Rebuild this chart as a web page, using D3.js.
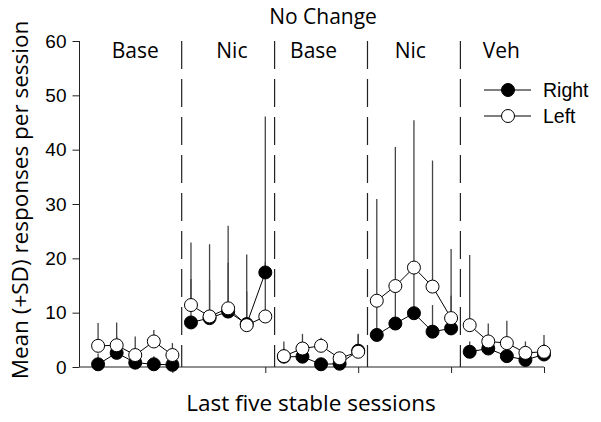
<!DOCTYPE html>
<html>
<head>
<meta charset="utf-8">
<script src="https://cdn.jsdelivr.net/npm/d3@7"></script>
<style>
  body { margin: 0; background: #fff; }
  svg { display: block; }
</style>
</head>
<body>
<div id="chart"></div>
<script>
(function() {
  "use strict";

  // sessions 1..25, five per phase
  var sessions = d3.range(1, 26);
  var phases = ["Base", "Nic", "Base", "Nic", "Veh"];
  var yTicks = [0, 10, 20, 30, 40, 50, 60];

  var rightMean = [0.5, 2.6, 0.8, 0.5, 0.4,  8.2, 9.0, 10.2, 7.9, 17.4,
                   1.9, 1.9, 0.5, 0.6, 3.0,  5.9, 8.0, 9.9, 6.5, 7.1,
                   2.8, 3.4, 2.0, 1.3, 2.3];
  var rightSD   = [2.0, 3.0, 1.5, 1.5, 1.5,  8.0, 7.0, 9.0, 6.0, 28.7,
                   1.5, 2.0, 1.0, 1.0, 3.0,  6.0, 7.0, 8.0, 4.9, 6.0,
                   1.9, 2.0, 2.0, 1.0, 2.0];
  var leftMean  = [3.9, 4.0, 2.2, 4.7, 2.2,  11.4, 9.3, 10.8, 7.7, 9.3,
                   2.0, 3.4, 3.9, 1.6, 2.8,  12.2, 14.9, 18.3, 14.8, 9.0,
                   7.7, 4.7, 4.4, 2.6, 2.8];
  var leftSD    = [4.2, 4.2, 3.4, 2.1, 2.2,  11.5, 13.3, 15.2, 13.0, 10.0,
                   2.7, 2.7, 1.5, 1.2, 3.3,  18.7, 25.6, 27.1, 23.2, 12.7,
                   12.9, 3.3, 4.1, 2.1, 3.1];

  var width = 601, height = 422;
  var calibri = "'Open Sans', 'Noto Sans', sans-serif";
  var arial = "'Liberation Sans', Arial, sans-serif";

  var svg = d3.select("#chart").append("svg")
    .attr("width", width)
    .attr("height", height);

  var x = d3.scaleLinear().domain([0, 25]).range([79.5, 544]);
  var y = d3.scaleLinear().domain([0, 60]).range([367, 41]);

  // axes
  var yAxis = d3.axisLeft(y).tickValues(yTicks).tickSize(7).tickPadding(6);
  var gy = svg.append("g").attr("transform", `translate(${x(0)},0)`).call(yAxis);
  gy.select(".domain").attr("d", `M0,${y(0)}V${y(60)}`);
  gy.selectAll("text").attr("font-family", arial).attr("font-size", 19).attr("fill", "#000");
  gy.selectAll("line, path").attr("stroke", "#222");

  var xAxis = d3.axisBottom(x).tickValues([5, 10, 15, 20, 25]).tickSize(6).tickFormat("");
  var gx = svg.append("g").attr("transform", `translate(0,${y(0)})`).call(xAxis);
  gx.select(".domain").attr("d", `M${x(0)},0H${x(25)}`);
  gx.selectAll("line, path").attr("stroke", "#222");

  // phase dividers
  svg.append("g").selectAll("line")
    .data([5.5, 10.5, 15.5, 20.5])
    .join("line")
    .attr("x1", d => x(d)).attr("x2", d => x(d))
    .attr("y1", y(60)).attr("y2", y(0))
    .attr("stroke", "#222")
    .attr("stroke-width", 1.2)
    .attr("stroke-dasharray", "28,10");

  // phase labels
  var labelPos = [3, 8.2, 12.6, 17.8, 22.7];
  svg.append("g").selectAll("text")
    .data(phases)
    .join("text")
    .attr("x", (d, i) => x(labelPos[i]))
    .attr("y", 58)
    .attr("text-anchor", "middle")
    .attr("font-family", calibri)
    .attr("font-size", 21)
    .text(d => d);

  // error bars (upward only)
  function bars(mean, sd) {
    svg.append("g").selectAll("line")
      .data(sessions)
      .join("line")
      .attr("x1", d => x(d)).attr("x2", d => x(d))
      .attr("y1", (d, i) => y(mean[i]))
      .attr("y2", (d, i) => y(mean[i] + sd[i]))
      .attr("stroke", "#444")
      .attr("stroke-width", 1.3);
  }
  bars(rightMean, rightSD);
  bars(leftMean, leftSD);

  // lines, one segment per phase
  function series(mean, fill) {
    var line = d3.line().x(d => x(d)).y(d => y(mean[d - 1]));
    var g = svg.append("g");
    phases.forEach(function(p, k) {
      g.append("path")
        .attr("d", line(sessions.slice(k * 5, k * 5 + 5)))
        .attr("fill", "none")
        .attr("stroke", "#000")
        .attr("stroke-width", 1);
    });
    g.selectAll("circle")
      .data(sessions)
      .join("circle")
      .attr("cx", d => x(d))
      .attr("cy", (d, i) => y(mean[i]))
      .attr("r", 6.5)
      .attr("fill", fill)
      .attr("stroke", "#000")
      .attr("stroke-width", 1);
  }
  series(rightMean, "#000");
  series(leftMean, "#fff");

  // legend
  var legend = svg.append("g");
  [["Right", "#000", 90], ["Left", "#fff", 116]].forEach(function(d) {
    legend.append("line")
      .attr("x1", 484).attr("x2", 531)
      .attr("y1", d[2]).attr("y2", d[2])
      .attr("stroke", "#000");
    legend.append("circle")
      .attr("cx", 508).attr("cy", d[2]).attr("r", 6.5)
      .attr("fill", d[1]).attr("stroke", "#000");
    legend.append("text")
      .attr("x", 543).attr("y", d[2] + 7)
      .attr("font-family", arial)
      .attr("font-size", 19.5)
      .text(d[0]);
  });

  // titles
  svg.append("text")
    .attr("x", 323).attr("y", 24)
    .attr("text-anchor", "middle")
    .attr("font-family", calibri)
    .attr("font-size", 21)
    .text("No Change");

  svg.append("text")
    .attr("x", 311).attr("y", 411)
    .attr("text-anchor", "middle")
    .attr("font-family", calibri)
    .attr("font-size", 22.5)
    .text("Last five stable sessions");

  svg.append("text")
    .attr("transform", "translate(28,200) rotate(-90)")
    .attr("text-anchor", "middle")
    .attr("font-family", calibri)
    .attr("font-size", 22.5)
    .text("Mean (+SD) responses per session");
})();
</script>
</body>
</html>
